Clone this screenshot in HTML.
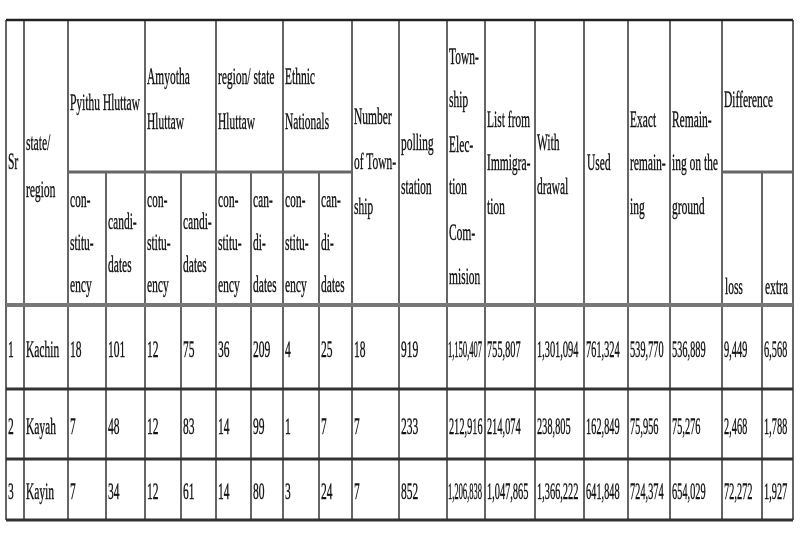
<!DOCTYPE html>
<html><head><meta charset="utf-8"><style>
body{margin:0;background:#fff;width:800px;height:550px;overflow:hidden;position:relative;font-family:"Liberation Serif",serif;color:#151515}
svg{position:absolute;left:0;top:0}
.t{position:absolute;font-size:23px;line-height:44px;height:44px;white-space:pre;transform:scaleX(.5);transform-origin:0 50%;-webkit-text-stroke:0.4px #151515}
.n{transform:scaleX(.37)}
.m{transform:scaleX(.45)}
</style></head><body>
<svg width="800" height="550">
<g stroke="#333" stroke-width="1.5">
<line x1="6" y1="20" x2="6" y2="520"/><line x1="24" y1="20" x2="24" y2="520"/>
<line x1="68" y1="20" x2="68" y2="520"/><line x1="145" y1="20" x2="145" y2="520"/>
<line x1="216" y1="20" x2="216" y2="520"/><line x1="283" y1="20" x2="283" y2="520"/>
<line x1="352" y1="20" x2="352" y2="520"/><line x1="399" y1="20" x2="399" y2="520"/><line x1="447" y1="20" x2="447" y2="520"/>
<line x1="485" y1="20" x2="485" y2="520"/><line x1="535" y1="20" x2="535" y2="520"/>
<line x1="584" y1="20" x2="584" y2="520"/><line x1="628" y1="20" x2="628" y2="520"/>
<line x1="670" y1="20" x2="670" y2="520"/><line x1="722" y1="20" x2="722" y2="520"/>
<line x1="793" y1="20" x2="793" y2="520"/>
<line x1="106" y1="172" x2="106" y2="520"/><line x1="181" y1="172" x2="181" y2="520"/>
<line x1="251" y1="172" x2="251" y2="520"/><line x1="319" y1="172" x2="319" y2="520"/>
<line x1="762" y1="172" x2="762" y2="520"/>
</g>
<line x1="6" y1="20" x2="793" y2="20" stroke="#222" stroke-width="2.5"/>
<line x1="68" y1="172" x2="352" y2="172" stroke="#666" stroke-width="3"/>
<line x1="722" y1="172" x2="793" y2="172" stroke="#666" stroke-width="3"/>
<line x1="6" y1="305" x2="793" y2="305" stroke="#777" stroke-width="4"/>
<line x1="6" y1="389" x2="793" y2="389" stroke="#333" stroke-width="3"/>
<line x1="6" y1="459" x2="793" y2="459" stroke="#333" stroke-width="3"/>
<line x1="6" y1="520" x2="793" y2="520" stroke="#333" stroke-width="3"/>
</svg>

<div class="t" style="left:8px;top:140px">Sr</div>
<div class="t" style="left:26px;top:121px">state/</div>
<div class="t" style="left:26px;top:168px">region</div>
<div class="t" style="left:70px;top:81px">Pyithu Hluttaw</div>
<div class="t" style="left:147px;top:55px">Amyotha</div>
<div class="t" style="left:147px;top:100px">Hluttaw</div>
<div class="t" style="left:218px;top:55px">region/ state</div>
<div class="t" style="left:218px;top:100px">Hluttaw</div>
<div class="t" style="left:285px;top:55px">Ethnic</div>
<div class="t" style="left:285px;top:100px">Nationals</div>
<div class="t" style="left:354px;top:95px">Number</div>
<div class="t" style="left:354px;top:140px">of Town-</div>
<div class="t" style="left:354px;top:185px">ship</div>
<div class="t" style="left:401px;top:121px">polling</div>
<div class="t" style="left:401px;top:165px">station</div>
<div class="t" style="left:449px;top:35px">Town-</div>
<div class="t" style="left:449px;top:78px">ship</div>
<div class="t" style="left:449px;top:123px">Elec-</div>
<div class="t" style="left:449px;top:165px">tion</div>
<div class="t" style="left:449px;top:211px">Com-</div>
<div class="t" style="left:449px;top:255px">mision</div>
<div class="t" style="left:487px;top:98px">List from</div>
<div class="t" style="left:487px;top:141px">Immigra-</div>
<div class="t" style="left:487px;top:185px">tion</div>
<div class="t" style="left:537px;top:121px">With</div>
<div class="t" style="left:537px;top:165px">drawal</div>
<div class="t" style="left:587px;top:141px">Used</div>
<div class="t" style="left:630px;top:98px">Exact</div>
<div class="t" style="left:630px;top:141px">remain-</div>
<div class="t" style="left:630px;top:185px">ing</div>
<div class="t" style="left:672px;top:98px">Remain-</div>
<div class="t" style="left:672px;top:141px">ing on the</div>
<div class="t" style="left:672px;top:185px">ground</div>
<div class="t" style="left:724px;top:78px">Difference</div>
<div class="t" style="left:725px;top:265px">loss</div>
<div class="t" style="left:765px;top:265px">extra</div>

<div class="t" style="left:70px;top:178px">con-</div><div class="t" style="left:70px;top:221px">stitu-</div><div class="t" style="left:70px;top:263px">ency</div>
<div class="t" style="left:147px;top:178px">con-</div><div class="t" style="left:147px;top:221px">stitu-</div><div class="t" style="left:147px;top:263px">ency</div>
<div class="t" style="left:218px;top:178px">con-</div><div class="t" style="left:218px;top:221px">stitu-</div><div class="t" style="left:218px;top:263px">ency</div>
<div class="t" style="left:285px;top:178px">con-</div><div class="t" style="left:285px;top:221px">stitu-</div><div class="t" style="left:285px;top:263px">ency</div>
<div class="t" style="left:108px;top:200px">candi-</div><div class="t" style="left:108px;top:243px">dates</div>
<div class="t" style="left:183px;top:200px">candi-</div><div class="t" style="left:183px;top:243px">dates</div>
<div class="t" style="left:253px;top:178px">can-</div><div class="t" style="left:253px;top:221px">di-</div><div class="t" style="left:253px;top:263px">dates</div>
<div class="t" style="left:321px;top:178px">can-</div><div class="t" style="left:321px;top:221px">di-</div><div class="t" style="left:321px;top:263px">dates</div>

<div class="t" style="left:8px;top:328px">1</div><div class="t" style="left:26px;top:328px">Kachin</div>
<div class="t" style="left:70px;top:328px">18</div><div class="t" style="left:108px;top:328px">101</div>
<div class="t" style="left:147px;top:328px">12</div><div class="t" style="left:183px;top:328px">75</div>
<div class="t" style="left:218px;top:328px">36</div><div class="t" style="left:253px;top:328px">209</div>
<div class="t" style="left:285px;top:328px">4</div><div class="t" style="left:321px;top:328px">25</div>
<div class="t" style="left:354px;top:328px">18</div><div class="t" style="left:401px;top:328px">919</div>
<div class="t n" style="left:448px;top:328px">1,150,407</div><div class="t m" style="left:487px;top:328px">755,807</div>
<div class="t m" style="left:537px;top:328px">1,301,094</div><div class="t m" style="left:586px;top:328px">761,324</div>
<div class="t m" style="left:630px;top:328px">539,770</div><div class="t m" style="left:672px;top:328px">536,889</div>
<div class="t m" style="left:724px;top:328px">9,449</div><div class="t m" style="left:764px;top:328px">6,568</div>

<div class="t" style="left:8px;top:405px">2</div><div class="t" style="left:26px;top:405px">Kayah</div>
<div class="t" style="left:70px;top:405px">7</div><div class="t" style="left:108px;top:405px">48</div>
<div class="t" style="left:147px;top:405px">12</div><div class="t" style="left:183px;top:405px">83</div>
<div class="t" style="left:218px;top:405px">14</div><div class="t" style="left:253px;top:405px">99</div>
<div class="t" style="left:285px;top:405px">1</div><div class="t" style="left:321px;top:405px">7</div>
<div class="t" style="left:354px;top:405px">7</div><div class="t" style="left:401px;top:405px">233</div>
<div class="t m" style="left:449px;top:405px">212,916</div><div class="t m" style="left:487px;top:405px">214,074</div>
<div class="t m" style="left:537px;top:405px">238,805</div><div class="t m" style="left:586px;top:405px">162,849</div>
<div class="t m" style="left:630px;top:405px">75,956</div><div class="t m" style="left:672px;top:405px">75,276</div>
<div class="t m" style="left:724px;top:405px">2,468</div><div class="t m" style="left:764px;top:405px">1,788</div>

<div class="t" style="left:8px;top:470px">3</div><div class="t" style="left:26px;top:470px">Kayin</div>
<div class="t" style="left:70px;top:470px">7</div><div class="t" style="left:108px;top:470px">34</div>
<div class="t" style="left:147px;top:470px">12</div><div class="t" style="left:183px;top:470px">61</div>
<div class="t" style="left:218px;top:470px">14</div><div class="t" style="left:253px;top:470px">80</div>
<div class="t" style="left:285px;top:470px">3</div><div class="t" style="left:321px;top:470px">24</div>
<div class="t" style="left:354px;top:470px">7</div><div class="t" style="left:401px;top:470px">852</div>
<div class="t n" style="left:448px;top:470px">1,206,838</div><div class="t m" style="left:487px;top:470px">1,047,865</div>
<div class="t m" style="left:537px;top:470px">1,366,222</div><div class="t m" style="left:586px;top:470px">641,848</div>
<div class="t m" style="left:630px;top:470px">724,374</div><div class="t m" style="left:672px;top:470px">654,029</div>
<div class="t m" style="left:724px;top:470px">72,272</div><div class="t m" style="left:764px;top:470px">1,927</div>
</body></html>
